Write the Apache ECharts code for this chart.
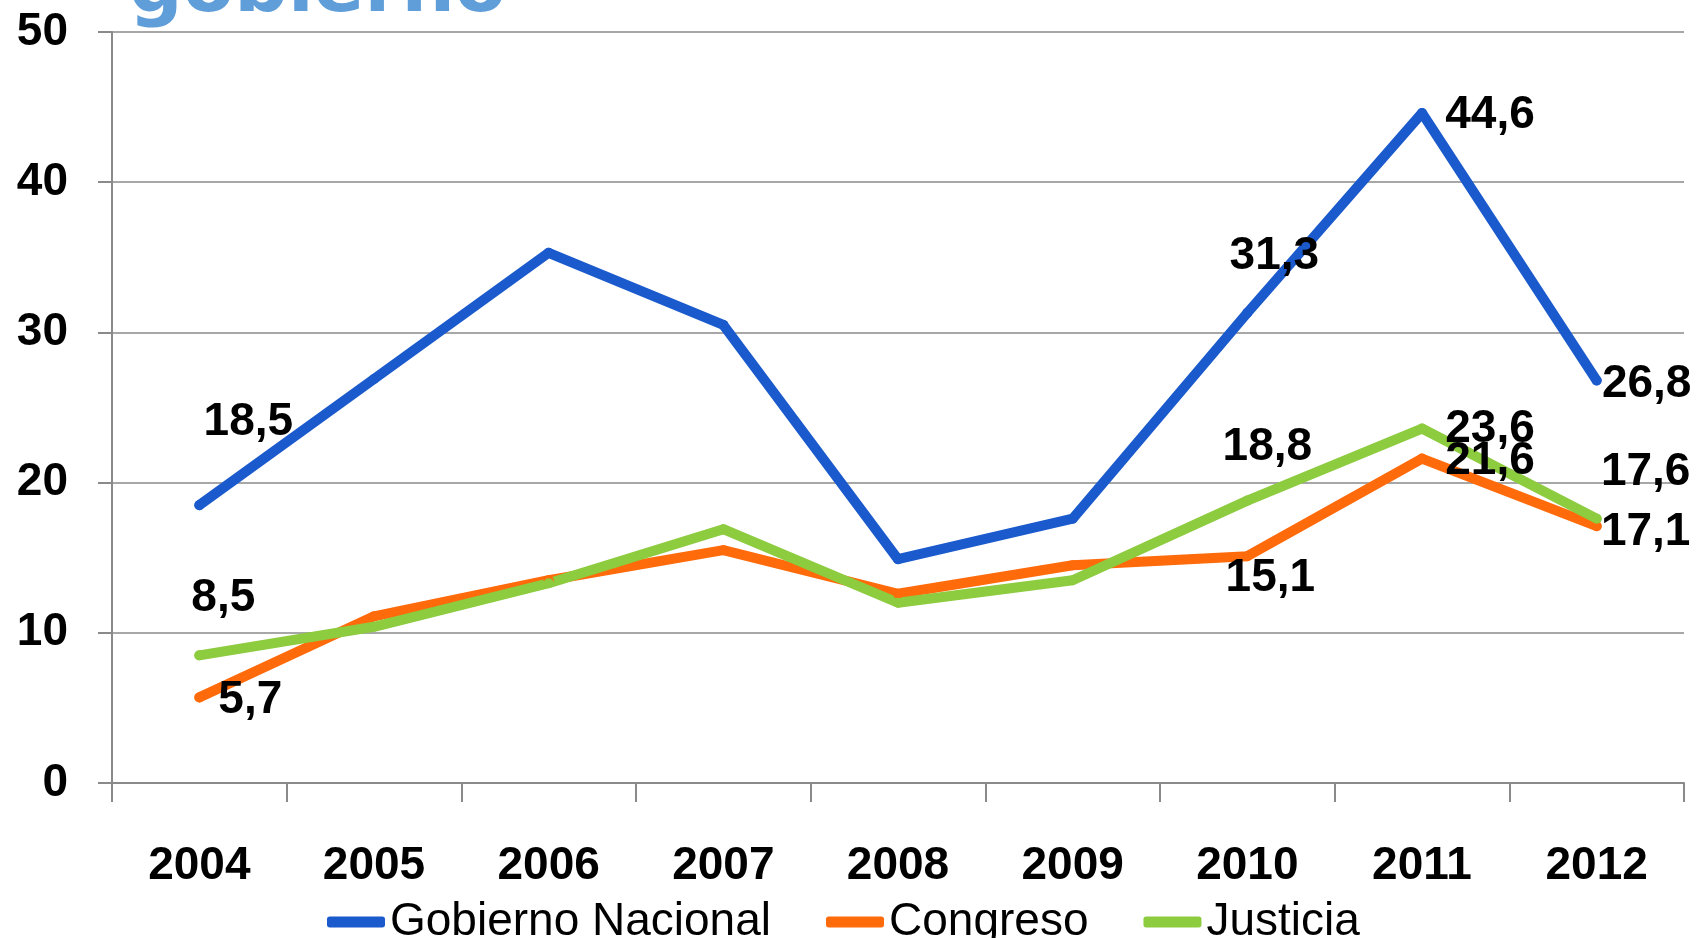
<!DOCTYPE html>
<html>
<head>
<meta charset="utf-8">
<title>gobierno</title>
<script src="https://cdn.jsdelivr.net/npm/echarts@6.0.0/dist/echarts.min.js"></script>
<style>
    html, body { margin: 0; padding: 0; background: #fff; }
    #chart { width: 1696px; height: 938px; }
</style>
</head>
<body>
<div id="chart"></div>
<script>
// data
var years = ['2004', '2005', '2006', '2007', '2008', '2009', '2010', '2011', '2012'];
var gobiernoNacional = [18.5, 26.9, 35.3, 30.5, 14.9, 17.6, 31.3, 44.6, 26.8];
var congreso = [5.7, 11.1, 13.5, 15.5, 12.6, 14.5, 15.1, 21.6, 17.1];
var justicia = [8.5, 10.4, 13.3, 16.9, 12.0, 13.5, 18.8, 23.6, 17.6];
var yTicks = [0, 10, 20, 30, 40, 50];

var colors = ['#1a5acd', '#ff6a0a', '#8dcb3f'];

// where the labelled points put their number (pixel offset from the point)
var labelOffsets = {
    'Gobierno Nacional': { 0: [49, -83], 6: [27, -57], 7: [68, 2], 8: [50, 4] },
    'Congreso': { 0: [51, 3], 6: [23, 22], 7: [68, 3], 8: [49, 6] },
    'Justicia': { 0: [24, -57], 6: [20, -53], 7: [68, 1], 8: [49, -46] }
};

function makeSeries(name, values, color) {
    var offs = labelOffsets[name];
    return {
        name: name,
        type: 'line',
        symbol: 'circle',
        symbolSize: 10,
        itemStyle: { color: color },
        lineStyle: { width: 10, color: color, cap: 'round', join: 'round' },
        emphasis: { disabled: true },
        data: values.map(function (v, i) {
            var item = { value: v };
            if (offs[i]) {
                item.label = {
                    show: true,
                    position: 'inside',
                    offset: offs[i],
                    formatter: function (p) { return String(p.value).replace('.', ','); },
                    color: '#000',
                    fontFamily: 'Liberation Sans',
                    fontWeight: 'bold',
                    fontSize: 46
                };
            }
            return item;
        })
    };
}

var chart = echarts.init(document.getElementById('chart'));
chart.setOption({
    animation: false,
    backgroundColor: '#fff',
    color: colors,
    graphic: [{
        type: 'text',
        x: 129,
        y: -46,
        style: {
            text: 'gobierno',
            fill: '#5f9ed8',
            font: 'bold 75px "DejaVu Sans"',
            align: 'left',
            verticalAlign: 'top'
        }
    }],
    grid: {
        left: 112,
        right: 12,
        top: 32,
        bottom: 155
    },
    legend: {
        left: 322,
        top: 894,
        icon: 'roundRect',
        itemWidth: 58,
        itemHeight: 11,
        itemGap: 55,
        textStyle: {
            color: '#000',
            fontFamily: 'Liberation Sans',
            fontSize: 46
        },
        data: ['Gobierno Nacional', 'Congreso', 'Justicia']
    },
    xAxis: {
        type: 'category',
        data: years,
        boundaryGap: true,
        axisLine: { lineStyle: { color: '#8a8a8a', width: 2 } },
        axisTick: { show: true, length: 19, lineStyle: { color: '#8a8a8a', width: 2 } },
        axisLabel: {
            margin: 60,
            color: '#000',
            fontFamily: 'Liberation Sans',
            fontWeight: 'bold',
            fontSize: 46
        }
    },
    yAxis: {
        type: 'value',
        min: yTicks[0],
        max: yTicks[yTicks.length - 1],
        interval: 10,
        axisLine: { show: true, lineStyle: { color: '#8a8a8a', width: 2 } },
        axisTick: { show: true, length: 14, lineStyle: { color: '#8a8a8a', width: 2 } },
        splitLine: { lineStyle: { color: '#8a8a8a', width: 1.5 } },
        axisLabel: {
            margin: 44,
            color: '#000',
            fontFamily: 'Liberation Sans',
            fontWeight: 'bold',
            fontSize: 46
        }
    },
    series: [
        makeSeries('Gobierno Nacional', gobiernoNacional, colors[0]),
        makeSeries('Congreso', congreso, colors[1]),
        makeSeries('Justicia', justicia, colors[2])
    ]
});
</script>
</body>
</html>
